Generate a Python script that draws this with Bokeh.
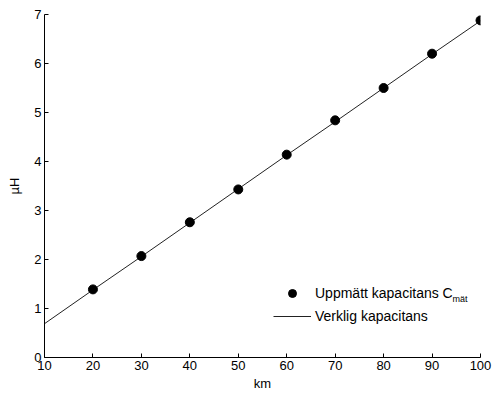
from bokeh.plotting import figure
from bokeh.models import Range1d, Legend, LegendItem, Label, ColumnDataSource
from bokeh.embed import file_html
from bokeh.resources import INLINE

# Data
km_line = [10, 20, 30, 40, 50, 60, 70, 80, 90, 100]
verklig = [0.69, 1.38, 2.06, 2.75, 3.44, 4.13, 4.81, 5.50, 6.19, 6.87]
km_pts = [20, 30, 40, 50, 60, 70, 80, 90, 100]
uppmatt = [1.39, 2.07, 2.76, 3.43, 4.14, 4.84, 5.50, 6.20, 6.88]
x_ticks = [10, 20, 30, 40, 50, 60, 70, 80, 90, 100]
y_ticks = [0, 1, 2, 3, 4, 5, 6, 7]

FONT = "Liberation Sans"

p = figure(width=492, height=394, output_backend="svg", toolbar_location=None,
           x_range=Range1d(10, 100), y_range=Range1d(0, 7),
           min_border_left=44, min_border_right=12, min_border_top=14, min_border_bottom=37)
p.outline_line_color = None
p.xgrid.visible = False
p.ygrid.visible = False
p.background_fill_color = "white"
p.border_fill_color = "white"

for ax in (p.xaxis[0], p.yaxis[0]):
    ax.major_tick_in = 4
    ax.major_tick_out = 0
    ax.minor_tick_line_color = None
    ax.axis_line_color = "black"
    ax.major_tick_line_color = "black"
    ax.major_label_text_font = FONT
    ax.major_label_text_font_size = "13px"
    ax.major_label_text_color = "black"
    ax.axis_label_text_font = FONT
    ax.axis_label_text_font_size = "13px"
    ax.axis_label_text_font_style = "normal"
    ax.axis_label_text_color = "black"

p.xaxis.ticker = x_ticks
p.yaxis.ticker = y_ticks
p.xaxis.axis_label = "km"
p.yaxis.axis_label = "µH"
p.xaxis.major_label_standoff = 3
p.yaxis.major_label_standoff = 3
p.xaxis.axis_label_standoff = 3
p.yaxis.axis_label_standoff = 9

src_l = ColumnDataSource(dict(x=km_line, y=verklig))
src_p = ColumnDataSource(dict(x=km_pts, y=uppmatt))
r_line = p.line("x", "y", source=src_l, line_color="#222222", line_width=1)
r_pts = p.scatter("x", "y", source=src_p, size=9, fill_color="black", line_color="black")

legend = Legend(items=[LegendItem(label="Uppmätt kapacitans C", renderers=[r_pts]),
                       LegendItem(label="Verklig kapacitans", renderers=[r_line])],
                location=(229, 31), padding=0, margin=0, spacing=3,
                glyph_width=38, glyph_height=20, label_height=20, label_standoff=4,
                label_text_font=FONT, label_text_font_size="14px", label_text_color="black",
                background_fill_alpha=0, border_line_color=None)
p.add_layout(legend, "center")

sub = Label(x=408, y=64, x_units="screen", y_units="screen", text="mät",
            text_font=FONT, text_font_size="9px", text_baseline="top", text_color="black")
p.add_layout(sub)

open("out.html", "w").write(file_html(p, INLINE))
